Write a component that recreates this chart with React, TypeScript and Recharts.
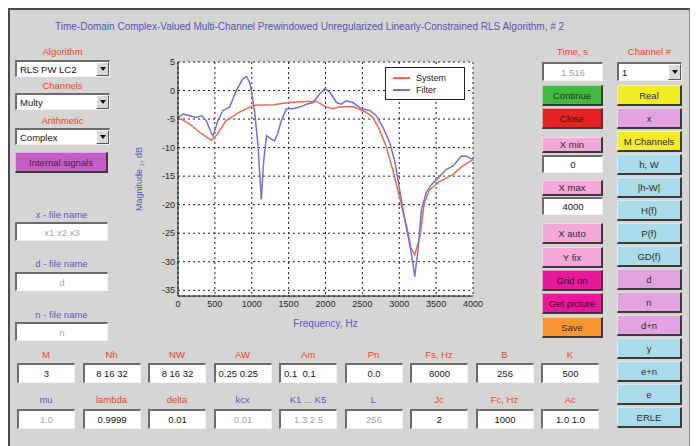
import React from "react";
import {
  CartesianGrid,
  Legend,
  Line,
  LineChart,
  XAxis,
  YAxis,
} from "recharts";

// frequency response (Hz / dB)
const systemFreq = [0, 160, 300, 450, 520, 650, 830, 1020, 1290, 1510, 1740, 1880, 2010, 2100, 2190, 2370, 2550, 2640, 2730, 2820, 2910, 3000, 3100, 3160, 3210, 3280, 3340, 3410, 3550, 3730, 3860, 4000];
const systemMag = [-4.7, -5.9, -7.4, -8.7, -7.9, -5.3, -3.8, -2.6, -2.5, -2.1, -1.9, -1.9, -2.9, -3.2, -2.9, -2.8, -3.8, -4.7, -6.8, -9.7, -13.8, -18.5, -23.8, -27.6, -28.8, -25.6, -19.7, -17.4, -15.9, -14.7, -13.2, -12.1];

const filterFreq = [0, 70, 160, 250, 320, 385, 450, 475, 540, 610, 700, 790, 880, 930, 970, 995, 1040, 1085, 1130, 1160, 1200, 1265, 1310, 1355, 1400, 1470, 1560, 1650, 1740, 1830, 1920, 1990, 2060, 2150, 2215, 2280, 2370, 2490, 2600, 2690, 2780, 2870, 2940, 3005, 3075, 3140, 3185, 3210, 3255, 3300, 3365, 3435, 3550, 3640, 3730, 3840, 3910, 4000];
const filterMag = [-4.7, -4.1, -4.4, -4.7, -4.4, -5.3, -7.4, -8.0, -5.3, -3.5, -2.9, 0.0, 2.1, 2.4, 1.5, 0.0, -3.8, -9.7, -19.1, -12.6, -7.9, -8.5, -8.8, -7.4, -5.3, -3.2, -3.2, -2.9, -2.4, -2.1, -0.6, 0.3, -0.3, -2.1, -2.4, -1.8, -2.1, -3.2, -3.5, -4.4, -6.5, -9.1, -12.4, -17.4, -22.6, -26.8, -30.3, -32.6, -27.9, -20.9, -17.9, -16.5, -15.0, -13.8, -13.2, -11.5, -11.5, -12.1];

const seriesNames = ["System", "Filter"];
const xTicks = [0, 500, 1000, 1500, 2000, 2500, 3000, 3500, 4000];
const yTicks = [5, 0, -5, -10, -15, -20, -25, -30, -35];

const topRowLabels = ["M", "Nh", "NW", "AW", "Am", "Pn", "Fs, Hz", "B", "K"];
const topRowValues = ["3", "8 16 32", "8 16 32", "0.25 0.25", "0.1  0.1", "0.0", "8000", "256", "500"];
const bottomRowLabels = ["mu", "lambda", "delta", "kcx", "K1 ... K5", "L", "Jc", "Fc, Hz", "Ac"];
const bottomRowValues = ["1.0", "0.9999", "0.01", "0.01", "1.3 2.5", "256", "2", "1000", "1.0 1.0"];

const channelButtons = ["Real", "x", "M Channels", "h, W", "|h-W|", "H(f)", "P(f)", "GD(f)", "d", "n", "d+n", "y", "e+n", "e", "ERLE"];

const systemData = systemFreq.map((f, i) => ({ f, m: systemMag[i] }));
const filterData = filterFreq.map((f, i) => ({ f, m: filterMag[i] }));

const FONT = "'Liberation Sans', Arial, sans-serif";
const PANEL = "#d5d5d3";
const RED_TXT = "#e8452e";
const BLUE_TXT = "#5a5ac0";
const SYS = "#ef6a50";
const FIL = "#7272d2";

const YELLOW = "#f2ee22";
const LILAC = "#e2a4e0";
const CYAN = "#a9dbe8";
const channelColors: Record<string, string> = {
  Real: YELLOW,
  x: LILAC,
  "M Channels": YELLOW,
  d: LILAC,
  n: LILAC,
  "d+n": LILAC,
};

function Text({ x, y, w, text, color }: { x: number; y: number; w: number; text: string; color: string }) {
  return (
    <div
      style={{
        position: "absolute",
        left: x,
        top: y - 6,
        width: w,
        height: 12,
        lineHeight: "12px",
        textAlign: "center",
        fontSize: 9.5,
        color,
        whiteSpace: "nowrap",
      }}
    >
      {text}
    </div>
  );
}

function Field({
  x, y, w, h, value, muted, left,
}: { x: number; y: number; w: number; h: number; value: string; muted?: boolean; left?: boolean }) {
  return (
    <div
      style={{
        position: "absolute",
        left: x,
        top: y,
        width: w,
        height: h,
        boxSizing: "border-box",
        background: "#fff",
        borderTop: "2px solid #6c6c6c",
        borderLeft: "2px solid #6c6c6c",
        borderBottom: "1px solid #f2f2f2",
        borderRight: "1px solid #f2f2f2",
        fontSize: 9.5,
        color: muted ? "#a4a4a4" : "#151515",
        display: "flex",
        alignItems: "center",
        justifyContent: left ? "flex-start" : "center",
        paddingLeft: left ? 3 : 0,
        whiteSpace: "pre",
        overflow: "hidden",
      }}
    >
      {value}
    </div>
  );
}

function Select({ x, y, w, h, value }: { x: number; y: number; w: number; h: number; value: string }) {
  return (
    <div style={{ position: "absolute", left: x, top: y, width: w, height: h }}>
      <Field x={0} y={0} w={w} h={h} value={value} left />
      <div
        style={{
          position: "absolute",
          right: 1,
          top: 2,
          width: 13,
          height: h - 3,
          boxSizing: "border-box",
          background: "#d8d8d8",
          borderRight: "1px solid #555",
          borderBottom: "1px solid #555",
          borderTop: "1px solid #fff",
          borderLeft: "1px solid #fff",
        }}
      >
        <div
          style={{
            position: "absolute",
            left: 3,
            top: (h - 3) / 2 - 3,
            width: 0,
            height: 0,
            borderLeft: "3px solid transparent",
            borderRight: "3px solid transparent",
            borderTop: "4px solid #111",
          }}
        />
      </div>
    </div>
  );
}

function Btn({
  x, y, w, h, label, bg, color = "#2c2c2c",
}: { x: number; y: number; w: number; h: number; label: string; bg: string; color?: string }) {
  return (
    <div
      style={{
        position: "absolute",
        left: x,
        top: y,
        width: w,
        height: h,
        boxSizing: "border-box",
        background: bg,
        borderTop: "1px solid rgba(255,255,255,0.5)",
        borderLeft: "1px solid rgba(255,255,255,0.5)",
        borderBottom: "2px solid #3a3a3a",
        borderRight: "2px solid #3a3a3a",
        fontSize: 9.5,
        color,
        display: "flex",
        alignItems: "center",
        justifyContent: "center",
        whiteSpace: "nowrap",
      }}
    >
      {label}
    </div>
  );
}

function YLabel(props: any) {
  const vb = props.viewBox || { x: 0, y: 0, width: 0, height: 0 };
  const cx = vb.x + 1;
  const cy = vb.y + vb.height / 2;
  return (
    <text
      x={cx}
      y={cy}
      transform={`rotate(-90 ${cx} ${cy})`}
      textAnchor="middle"
      dominantBaseline="central"
      fill={BLUE_TXT}
      fontSize={9}
      fontFamily={FONT}
    >
      Magnitude <tspan fontSize={6} dy={3}>1</tspan>
      <tspan dy={-3}>, dB</tspan>
    </text>
  );
}

function XLabel(props: any) {
  const vb = props.viewBox || { x: 0, y: 0, width: 0, height: 0 };
  return (
    <text
      x={vb.x + vb.width / 2}
      y={vb.y + 31}
      textAnchor="middle"
      fill={BLUE_TXT}
      fontSize={10}
      fontFamily={FONT}
    >
      Frequency, Hz
    </text>
  );
}

function LegendBox(props: any) {
  const items = [...(props.payload || [])].sort(
    (a: any, b: any) => seriesNames.indexOf(a.value) - seriesNames.indexOf(b.value)
  );
  return (
    <div
      style={{
        width: 80,
        height: 33,
        boxSizing: "border-box",
        background: "#fff",
        border: "1px solid #222",
        padding: "4px 0 0 7px",
        fontFamily: FONT,
        fontSize: 9,
        color: "#222",
      }}
    >
      {items.map((it: any) => (
        <div key={it.value} style={{ display: "flex", alignItems: "center", height: 12 }}>
          <span style={{ width: 17, height: 2, background: it.color, marginRight: 6 }} />
          {it.value}
        </div>
      ))}
    </div>
  );
}

function MagnitudeChart() {
  const tick = { fontSize: 9, fill: "#262626", fontFamily: FONT };
  return (
    <LineChart width={375} height={290} margin={{ top: 12, right: 12, bottom: 14, left: 28 }}>
      <CartesianGrid stroke="#1a1a1a" strokeDasharray="2 3" fill="#ffffff" />
      <XAxis
        dataKey="f"
        type="number"
        domain={[0, 4000]}
        ticks={xTicks}
        interval={0}
        height={30}
        tickLine={false}
        tickSize={0}
        tickMargin={5}
        tick={tick}
        axisLine={{ stroke: "#111" }}
        label={<XLabel />}
      />
      <XAxis
        xAxisId="top"
        orientation="top"
        type="number"
        domain={[0, 4000]}
        height={0}
        tick={false}
        tickLine={false}
        axisLine={{ stroke: "#111" }}
      />
      <YAxis
        type="number"
        domain={[-36, 5]}
        ticks={yTicks}
        interval={0}
        width={40}
        tickLine={false}
        tickSize={0}
        tickMargin={3}
        tick={tick}
        axisLine={{ stroke: "#111" }}
        label={<YLabel />}
      />
      <YAxis
        yAxisId="right"
        orientation="right"
        type="number"
        domain={[-36, 5]}
        width={0}
        tick={false}
        tickLine={false}
        axisLine={{ stroke: "#111" }}
      />
      <Legend
        layout="horizontal"
        verticalAlign="middle"
        align="center"
        content={<LegendBox />}
        wrapperStyle={{ left: 275, top: 17, width: 80, height: 33 }}
      />
      <Line data={systemData} dataKey="m" name="System" type="linear" stroke={SYS} strokeWidth={1.5} dot={false} isAnimationActive={false} />
      <Line data={filterData} dataKey="m" name="Filter" type="linear" stroke={FIL} strokeWidth={1.5} dot={false} isAnimationActive={false} />
    </LineChart>
  );
}

export default function App() {
  const colX = (i: number) => 17 + 65.5 * i;
  return (
    <div
      style={{
        position: "absolute",
        left: 0,
        top: 0,
        width: 698,
        height: 446,
        overflow: "hidden",
        background: "#fff",
        fontFamily: FONT,
      }}
    >
      <div
        style={{
          position: "absolute",
          left: 8,
          top: 8,
          width: 682,
          height: 446,
          boxSizing: "border-box",
          background: PANEL,
          borderTop: "2px solid #4a4a4a",
          borderLeft: "2px solid #4a4a4a",
          borderRight: "1px solid #8a8a8a",
        }}
      />
      <div
        style={{
          position: "absolute",
          left: 55,
          top: 21,
          fontSize: 10,
          color: "#5656b0",
          whiteSpace: "nowrap",
        }}
      >
        Time-Domain Complex-Valued Multi-Channel Prewindowed Unregularized Linearly-Constrained RLS Algorithm, # 2
      </div>

      {/* left column */}
      <Text x={15} y={52} w={95} text="Algorithm" color={RED_TXT} />
      <Select x={15} y={60} w={95} h={17} value="RLS PW LC2" />
      <Text x={15} y={86} w={95} text="Channels" color={RED_TXT} />
      <Select x={15} y={93} w={95} h={17} value="Multy" />
      <Text x={15} y={121} w={95} text="Arithmetic" color={RED_TXT} />
      <Select x={15} y={128} w={95} h={17} value="Complex" />
      <Btn x={15} y={152} w={93} h={21} label="Internal signals" bg="#c35ec3" color="#4a1a4a" />
      <Text x={15} y={215} w={93} text="x - file name" color={BLUE_TXT} />
      <Field x={15} y={222} w={93} h={19} value="x1 x2 x3" muted />
      <Text x={15} y={264} w={93} text="d - file name" color={BLUE_TXT} />
      <Field x={15} y={272} w={93} h={19} value="d" muted />
      <Text x={15} y={315} w={93} text="n - file name" color={BLUE_TXT} />
      <Field x={15} y={322} w={93} h={19} value="n" muted />

      {/* chart */}
      <div style={{ position: "absolute", left: 110, top: 50 }}>
        <MagnitudeChart />
      </div>

      {/* right column 1 */}
      <Text x={542} y={52} w={61} text="Time, s" color={RED_TXT} />
      <Field x={542} y={62} w={61} h={19} value="1.516" muted />
      <Btn x={542} y={85} w={61} h={21} label="Continue" bg="#3fba3f" />
      <Btn x={542} y={108} w={61} h={21} label="Close" bg="#e42424" color="#3a1010" />
      <Btn x={542} y={137} w={61} h={16} label="X min" bg="#f3a8d8" />
      <Field x={542} y={155} w={61} h={18} value="0" />
      <Btn x={542} y={180} w={61} h={16} label="X max" bg="#f3a8d8" />
      <Field x={542} y={197} w={61} h={18} value="4000" />
      <Btn x={542} y={223} w={61} h={21} label="X auto" bg="#f3a8d8" />
      <Btn x={542} y={247} w={61} h={21} label="Y fix" bg="#f3a8d8" />
      <Btn x={542} y={270} w={61} h={21} label="Grid on" bg="#e5199a" color="#3a0a28" />
      <Btn x={542} y={293} w={61} h={21} label="Get picture" bg="#e5199a" color="#3a0a28" />
      <Btn x={542} y={317} w={61} h={21} label="Save" bg="#f7962e" />

      {/* right column 2 */}
      <Text x={617} y={52} w={65} text="Channel #" color={RED_TXT} />
      <Select x={617} y={62} w={65} h={19} value="1" />
      {channelButtons.map((b, i) => (
        <Btn key={b} x={617} y={85 + 23 * i} w={65} h={21} label={b} bg={channelColors[b] || CYAN} />
      ))}

      {/* parameter rows */}
      {topRowLabels.map((l, i) => (
        <Text key={l} x={colX(i)} y={355} w={58} text={l} color={RED_TXT} />
      ))}
      {topRowValues.map((v, i) => (
        <Field key={i} x={colX(i)} y={363} w={58} h={20} value={v} left={i === 3 || i === 4} />
      ))}
      {bottomRowLabels.map((l, i) => (
        <Text
          key={l}
          x={colX(i)}
          y={400}
          w={58}
          text={l}
          color={[0, 3, 4, 5].includes(i) ? BLUE_TXT : RED_TXT}
        />
      ))}
      {bottomRowValues.map((v, i) => (
        <Field key={i} x={colX(i)} y={409} w={58} h={20} value={v} muted={[0, 3, 4, 5].includes(i)} />
      ))}
    </div>
  );
}
